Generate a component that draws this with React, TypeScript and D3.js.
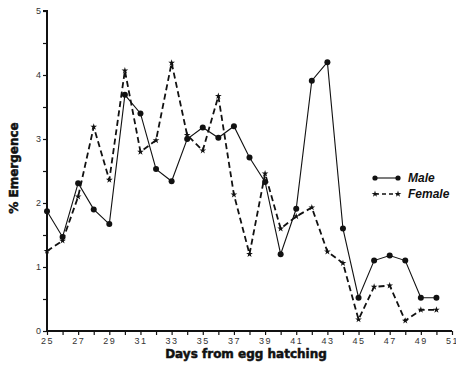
import { useEffect, useRef } from "react";
import * as d3 from "d3";

// days from egg hatching
const days = [25, 26, 27, 28, 29, 30, 31, 32, 33, 34, 35, 36, 37, 38, 39, 40, 41, 42, 43, 44, 45, 46, 47, 48, 49, 50];

// % emergence
const male = [1.87, 1.47, 2.31, 1.9, 1.67, 3.69, 3.4, 2.53, 2.34, 3.0, 3.18, 3.02, 3.2, 2.71, 2.33, 1.2, 1.91, 3.91, 4.2, 1.6, 0.52, 1.1, 1.18, 1.1, 0.52, 0.52];
const female = [1.25, 1.41, 2.1, 3.19, 2.36, 4.07, 2.8, 2.98, 4.19, 3.06, 2.82, 3.67, 2.13, 1.2, 2.46, 1.6, 1.79, 1.93, 1.24, 1.06, 0.18, 0.69, 0.71, 0.16, 0.33, 0.33];

const xLabels = [25, 27, 29, 31, 33, 35, 37, 39, 41, 43, 45, 47, 49, 51];

export default function App() {
  const ref = useRef<SVGSVGElement>(null);

  useEffect(() => {
    if (!ref.current) return;
    const width = 456;
    const height = 367;
    const svg = d3.select(ref.current).attr("width", width).attr("height", height);
    svg.selectAll("*").remove();

    const x = d3.scaleLinear().domain([25, 51]).range([47, 452]);
    const y = d3.scaleLinear().domain([0, 5]).range([331, 11]);
    const ink = "#111";

    // y axis
    const yAxis = svg.append("g").attr("transform", `translate(${x(25)},0)`);
    yAxis
      .call(
        d3.axisLeft(y).tickValues(d3.range(0, 5.01, 0.5)).tickSize(4).tickFormat((d) =>
          Number.isInteger(d as number) ? String(d) : ""
        )
      )
      .call((g) => g.select(".domain").attr("stroke-width", 2).attr("stroke", ink))
      .call((g) => g.selectAll("line").attr("stroke", ink).attr("stroke-width", 1.2))
      .call((g) =>
        g.selectAll("text")
          .attr("fill", "#333")
          .style("font-family", "Liberation Sans, Arial, sans-serif")
          .style("font-size", "9px")
          .attr("x", -6)
      );
    yAxis.select(".domain").attr("d", `M0,${y(0)}V${y(5)}H-4`);

    // x axis
    const xAxis = svg.append("g").attr("transform", `translate(0,${y(0)})`);
    xAxis
      .call(
        d3.axisBottom(x).tickValues(d3.range(25, 52, 1)).tickSize(4).tickFormat((d) =>
          xLabels.includes(d as number) ? String(d) : ""
        )
      )
      .call((g) => g.select(".domain").attr("stroke-width", 2).attr("stroke", ink).attr("d", `M${x(25)},0H${x(51)}`))
      .call((g) => g.selectAll("line").attr("stroke", ink).attr("stroke-width", 1.2))
      .call((g) =>
        g.selectAll("text")
          .attr("fill", "#333")
          .attr("y", 7)
          .style("font-family", "Liberation Sans, Arial, sans-serif")
          .style("font-size", "9px")
          .style("letter-spacing", "1.5px")
      );

    const maleData = days.map((d, i) => [d, male[i]] as [number, number]);
    const femaleData = days.map((d, i) => [d, female[i]] as [number, number]);
    const line = d3.line<[number, number]>().x((d) => x(d[0])).y((d) => y(d[1]));

    svg.append("path")
      .datum(femaleData)
      .attr("d", line)
      .attr("fill", "none")
      .attr("stroke", ink)
      .attr("stroke-width", 1.8)
      .attr("stroke-dasharray", "6,3.5");

    svg.append("path")
      .datum(maleData)
      .attr("d", line)
      .attr("fill", "none")
      .attr("stroke", ink)
      .attr("stroke-width", 1.1);

    const star = d3.symbol().type(d3.symbolStar).size(14);
    svg.selectAll(".fstar")
      .data(femaleData)
      .join("path")
      .attr("transform", (d) => `translate(${x(d[0])},${y(d[1])})`)
      .attr("d", star)
      .attr("fill", ink);

    svg.selectAll(".mdot")
      .data(maleData)
      .join("circle")
      .attr("cx", (d) => x(d[0]))
      .attr("cy", (d) => y(d[1]))
      .attr("r", 3)
      .attr("fill", ink);

    // legend
    const lg = svg.append("g");
    lg.append("line").attr("x1", 375).attr("x2", 398).attr("y1", 178).attr("y2", 178).attr("stroke", ink).attr("stroke-width", 1.1);
    lg.append("circle").attr("cx", 375).attr("cy", 178).attr("r", 2.6).attr("fill", ink);
    lg.append("circle").attr("cx", 398).attr("cy", 178).attr("r", 2.6).attr("fill", ink);
    lg.append("line").attr("x1", 375).attr("x2", 398).attr("y1", 194).attr("y2", 194).attr("stroke", ink).attr("stroke-width", 1.3).attr("stroke-dasharray", "4,3");
    lg.append("path").attr("transform", "translate(375,194)").attr("d", star).attr("fill", ink);
    lg.append("path").attr("transform", "translate(398,194)").attr("d", star).attr("fill", ink);
    lg.selectAll("text")
      .data(["Male", "Female"])
      .join("text")
      .attr("x", 408)
      .attr("y", (_, i) => 182 + i * 16)
      .attr("fill", ink)
      .style("font-family", "Liberation Sans, Arial, sans-serif")
      .style("font-size", "12px")
      .style("font-style", "italic")
      .style("font-weight", "600")
      .text((d) => d);

    // titles
    svg.append("text")
      .attr("transform", `translate(18,168) rotate(-90)`)
      .attr("text-anchor", "middle")
      .attr("fill", ink)
      .attr("stroke", ink)
      .attr("stroke-width", 0.5)
      .style("font-family", "DejaVu Sans, sans-serif")
      .style("font-size", "12px")
      .style("font-weight", "900")
      .text("% Emergence");

    svg.append("text")
      .attr("x", 246)
      .attr("y", 358)
      .attr("text-anchor", "middle")
      .attr("fill", ink)
      .attr("stroke", ink)
      .attr("stroke-width", 0.5)
      .style("font-family", "DejaVu Sans, sans-serif")
      .style("font-size", "12px")
      .style("font-weight", "900")
      .text("Days from egg hatching");
  }, []);

  return (
    <div style={{ position: "absolute", left: 0, top: 0, background: "#fff" }}>
      <svg ref={ref} style={{ display: "block" }} />
    </div>
  );
}
